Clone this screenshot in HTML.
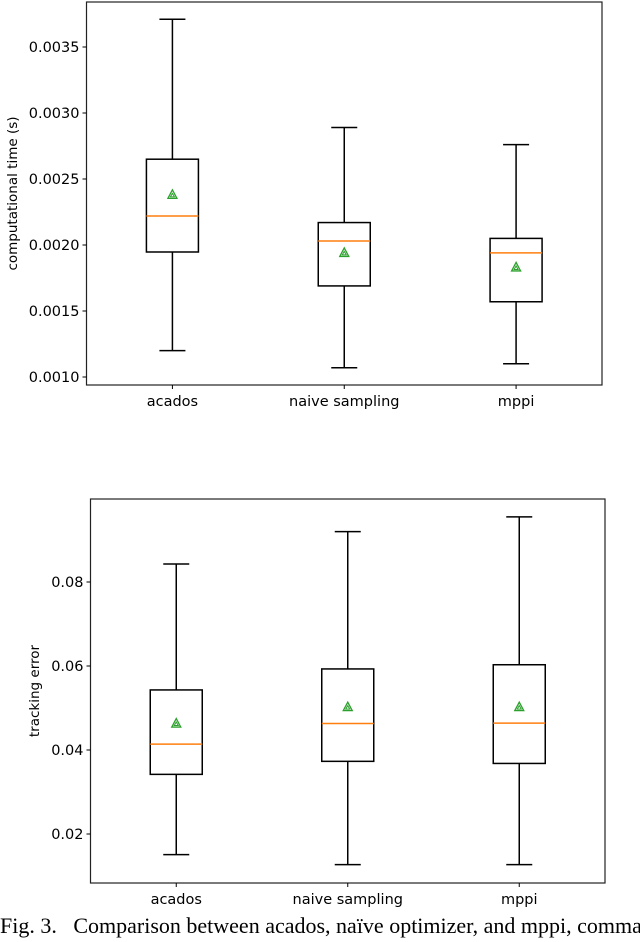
<!DOCTYPE html>
<html><head><meta charset="utf-8"><style>
body{margin:0;background:#fff;width:640px;height:942px;overflow:hidden}
svg text{font-family:"DejaVu Sans","Liberation Sans",sans-serif;font-size:14.5px;fill:#000}
.cap{position:absolute;left:0;top:913px;font-family:"Liberation Serif",serif;font-size:22px;white-space:nowrap}
</style></head><body>
<svg id="chart" width="640" height="942" style="position:absolute;left:0;top:0"></svg>
<div class="cap">Fig. 3.&nbsp;&nbsp;&nbsp;Comparison between acados, naïve optimizer, and mppi, comma</div>
<script>
const categories = ["acados","naive sampling","mppi"];
const timeLow = [0.00120,0.00107,0.00110];
const timeQ1 = [0.001947,0.00169,0.00157];
const timeMed = [0.00222,0.00203,0.00194];
const timeQ3 = [0.00265,0.00217,0.00205];
const timeHigh = [0.00371,0.00289,0.00276];
const timeMean = [0.00238,0.00194,0.00183];
const timeTicks = [0.0010,0.0015,0.0020,0.0025,0.0030,0.0035];
const timeTickLabels = ["0.0010","0.0015","0.0020","0.0025","0.0030","0.0035"];
const errLow = [0.0151,0.0127,0.0127];
const errQ1 = [0.0342,0.0373,0.0368];
const errMed = [0.0414,0.0463,0.0464];
const errQ3 = [0.0543,0.0593,0.0603];
const errHigh = [0.0843,0.0920,0.0955];
const errMean = [0.0463,0.0502,0.0502];
const errTicks = [0.02,0.04,0.06,0.08];
const errTickLabels = ["0.02","0.04","0.06","0.08"];

const svg = document.getElementById('chart');
const NS = 'http://www.w3.org/2000/svg';
function mk(tag, attrs){const e=document.createElementNS(NS,tag);for(const k in attrs)e.setAttribute(k,attrs[k]);svg.appendChild(e);return e;}

function drawPanel(p){
  const xs = i => p.left + (i+0.5)/3*(p.right-p.left);
  const ys = v => p.y0 + (v - p.v0)/(p.v1 - p.v0)*(p.y1 - p.y0);
  const frame = mk('rect',{x:p.left,y:p.top,width:p.right-p.left,height:p.bottom-p.top,fill:'none',stroke:'#222','stroke-width':1.2});
  
  
  p.ticks.forEach((t,i)=>{
    const y=ys(t);
    const tk=mk('line',{x1:p.left-4,x2:p.left,y1:y,y2:y,stroke:'#000','stroke-width':1});
    
    
    const tl=mk('text',{x:p.left-7,y:y+5,'text-anchor':'end'});
    tl.textContent=p.labels[i];
    
    
  });
  const yt=mk('text',{x:0,y:0,transform:`translate(${p.ytx},${(p.top+p.bottom)/2}) rotate(-90)`,'text-anchor':'middle'});
  yt.setAttribute('style','font-size:13.5px');
  yt.textContent=p.ytitle;
  
  
  categories.forEach((c,i)=>{
    const x=xs(i);
    const tk=mk('line',{x1:x,x2:x,y1:p.bottom,y2:p.bottom+4,stroke:'#000','stroke-width':1});
    
    
    const tl=mk('text',{x:x,y:p.bottom+21,'text-anchor':'middle'});
    tl.textContent=c;
    
    
    const g=document.createElementNS(NS,'g');svg.appendChild(g);
    
    
    const add=(tag,a)=>{const e=document.createElementNS(NS,tag);for(const k in a)e.setAttribute(k,a[k]);g.appendChild(e);return e;};
    const bw=26, cw=13;
    add('line',{x1:x,x2:x,y1:ys(p.high[i]),y2:ys(p.q3[i]),stroke:'#000','stroke-width':1.5});
    add('line',{x1:x,x2:x,y1:ys(p.q1[i]),y2:ys(p.low[i]),stroke:'#000','stroke-width':1.5});
    add('line',{x1:x-cw,x2:x+cw,y1:ys(p.high[i]),y2:ys(p.high[i]),stroke:'#000','stroke-width':1.5});
    add('line',{x1:x-cw,x2:x+cw,y1:ys(p.low[i]),y2:ys(p.low[i]),stroke:'#000','stroke-width':1.5});
    add('rect',{x:x-bw,y:ys(p.q3[i]),width:2*bw,height:ys(p.q1[i])-ys(p.q3[i]),fill:'none',stroke:'#000','stroke-width':1.5});
    add('line',{x1:x-bw,x2:x+bw,y1:ys(p.med[i]),y2:ys(p.med[i]),stroke:'#ff7f0e','stroke-width':1.5});
    const my=ys(p.mean[i]);
    add('polygon',{points:`${x},${my-5} ${x-4.5},${my+3.5} ${x+4.5},${my+3.5}`,fill:'none',stroke:'#2ca02c','stroke-width':1.3});
    add('polygon',{points:`${x},${my-1.5} ${x-2},${my+2} ${x+2},${my+2}`,fill:'none',stroke:'#2ca02c','stroke-width':1});
  });
}
drawPanel({name:'time',left:86.5,right:602,top:2,bottom:385,y0:377,y1:47,v0:0.0010,v1:0.0035,
  ticks:timeTicks,labels:timeTickLabels,ytitle:'computational time (s)',ytx:17,
  low:timeLow,q1:timeQ1,med:timeMed,q3:timeQ3,high:timeHigh,mean:timeMean});
drawPanel({name:'error',left:90.5,right:605,top:499,bottom:883,y0:834,y1:582,v0:0.02,v1:0.08,
  ticks:errTicks,labels:errTickLabels,ytitle:'tracking error',ytx:39,
  low:errLow,q1:errQ1,med:errMed,q3:errQ3,high:errHigh,mean:errMean});
</script>
</body></html>
